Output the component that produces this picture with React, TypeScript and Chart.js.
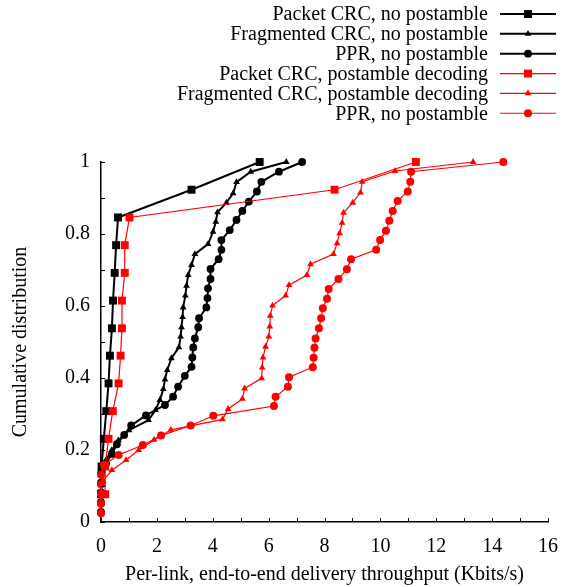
import React, { useEffect, useRef } from 'react';
import { Chart, registerables } from 'chart.js';

Chart.register(...registerables);

// ---------- data ----------
const seriesLabels = [
  'Packet CRC, no postamble',
  'Fragmented CRC, no postamble',
  'PPR, no postamble',
  'Packet CRC, postamble decoding',
  'Fragmented CRC, postamble decoding',
  'PPR, no postamble',
];

const xTicks = [0, 2, 4, 6, 8, 10, 12, 14, 16];
const yTicks = [0, 0.2, 0.4, 0.6, 0.8, 1];

// Packet CRC, no postamble (black squares)
const pktNoPostX = [0.0, 0.02, 0.1, 0.19, 0.27, 0.32, 0.39, 0.43, 0.49, 0.54, 0.61, 3.24, 5.68];
const pktNoPostY = [0.077, 0.154, 0.231, 0.308, 0.385, 0.462, 0.538, 0.615, 0.692, 0.769, 0.846, 0.923, 1.0];

// Fragmented CRC, no postamble (black triangles)
const fragNoPostX = [0.0, 0.0, 0.0, 0.0, 0.06, 0.17, 0.38, 0.62, 1.0, 1.7, 1.95, 2.11, 2.23, 2.29, 2.37, 2.52, 2.79, 2.85, 2.88, 2.92, 2.94, 3.02, 3.06, 3.12, 3.24, 3.36, 3.83, 4.01, 4.11, 4.17, 4.49, 4.73, 4.85, 5.36, 6.63];
const fragNoPostY = [0.031, 0.059, 0.087, 0.115, 0.143, 0.171, 0.199, 0.227, 0.255, 0.283, 0.311, 0.339, 0.369, 0.396, 0.422, 0.455, 0.485, 0.515, 0.541, 0.569, 0.596, 0.629, 0.656, 0.686, 0.714, 0.744, 0.772, 0.806, 0.834, 0.86, 0.887, 0.913, 0.944, 0.973, 1.0];

// PPR, no postamble (black circles)
const pprNoPostX = [0.0, 0.0, 0.0, 0.0, 0.0, 0.18, 0.39, 0.57, 0.83, 1.08, 1.61, 2.29, 2.58, 2.76, 3.0, 3.24, 3.27, 3.3, 3.36, 3.48, 3.51, 3.77, 3.81, 3.83, 3.92, 3.92, 4.21, 4.31, 4.31, 4.61, 4.85, 5.06, 5.29, 5.58, 5.74, 6.37, 7.2];
const pprNoPostY = [0.028, 0.055, 0.082, 0.109, 0.136, 0.163, 0.189, 0.216, 0.242, 0.268, 0.296, 0.325, 0.348, 0.376, 0.406, 0.431, 0.457, 0.485, 0.51, 0.541, 0.566, 0.596, 0.622, 0.649, 0.675, 0.703, 0.73, 0.756, 0.783, 0.811, 0.839, 0.864, 0.89, 0.918, 0.945, 0.973, 1.0];

// Packet CRC, postamble decoding (red squares)
const pktPostX = [0.15, 0.15, 0.27, 0.42, 0.63, 0.7, 0.75, 0.75, 0.85, 0.85, 1.02, 8.36, 11.27];
const pktPostY = [0.077, 0.154, 0.231, 0.308, 0.385, 0.462, 0.538, 0.615, 0.692, 0.769, 0.846, 0.923, 1.0];

// Fragmented CRC, postamble decoding (red triangles)
const fragPostX = [0.0, 0.0, 0.0, 0.08, 0.39, 0.9, 1.35, 1.9, 2.5, 4.35, 4.55, 5.06, 5.14, 5.75, 5.77, 5.8, 5.89, 6.01, 6.04, 6.06, 6.14, 6.61, 6.73, 7.37, 7.5, 8.32, 8.45, 8.54, 8.63, 8.68, 9.01, 9.29, 9.35, 10.52, 13.32];
const fragPostY = [0.029, 0.058, 0.087, 0.115, 0.144, 0.172, 0.2, 0.228, 0.256, 0.285, 0.314, 0.342, 0.371, 0.399, 0.429, 0.457, 0.487, 0.515, 0.543, 0.573, 0.601, 0.629, 0.658, 0.686, 0.716, 0.744, 0.774, 0.802, 0.831, 0.859, 0.887, 0.915, 0.945, 0.975, 1.0];

// PPR, no postamble (red circles)
const pprPostX = [0.0, 0.0, 0.0, 0.0, 0.0, 0.1, 0.63, 1.5, 2.15, 3.21, 4.02, 6.19, 6.25, 6.69, 6.73, 7.58, 7.61, 7.64, 7.68, 7.8, 7.88, 7.94, 8.09, 8.15, 8.5, 8.8, 8.95, 9.85, 9.99, 10.2, 10.32, 10.44, 10.62, 10.98, 11.07, 11.1, 14.4];
const pprPostY = [0.024, 0.051, 0.078, 0.105, 0.131, 0.158, 0.186, 0.214, 0.24, 0.268, 0.295, 0.322, 0.348, 0.376, 0.402, 0.43, 0.456, 0.484, 0.51, 0.538, 0.566, 0.594, 0.62, 0.647, 0.675, 0.702, 0.73, 0.756, 0.783, 0.809, 0.837, 0.864, 0.892, 0.918, 0.945, 0.973, 1.0];

// ---------- styles ----------
const FONT = '"Liberation Serif", "Times New Roman", serif';
const FSIZE = 20;
const BLACK = '#000000';
const RED = '#ff0000';

type Style = { color: string; width: number; marker: 'rect' | 'triangle' | 'circle'; radius: number };
const styles: Style[] = [
  { color: BLACK, width: 2, marker: 'rect', radius: 5.6 },
  { color: BLACK, width: 2, marker: 'triangle', radius: 3.9 },
  { color: BLACK, width: 2, marker: 'circle', radius: 3.9 },
  { color: RED, width: 1.2, marker: 'rect', radius: 5.6 },
  { color: RED, width: 1.2, marker: 'triangle', radius: 3.9 },
  { color: RED, width: 1.2, marker: 'circle', radius: 4.0 },
];

const seriesX = [pktNoPostX, fragNoPostX, pprNoPostX, pktPostX, fragPostX, pprPostX];
const seriesY = [pktNoPostY, fragNoPostY, pprNoPostY, pktPostY, fragPostY, pprPostY];

function drawMarker(ctx: CanvasRenderingContext2D, s: Style, x: number, y: number) {
  ctx.fillStyle = s.color;
  ctx.beginPath();
  if (s.marker === 'rect') {
    const h = s.radius * Math.SQRT1_2;
    ctx.rect(x - h, y - h, 2 * h, 2 * h);
  } else if (s.marker === 'triangle') {
    const r = s.radius;
    ctx.moveTo(x, y - r);
    ctx.lineTo(x + r * Math.cos(Math.PI / 6), y + r / 2);
    ctx.lineTo(x - r * Math.cos(Math.PI / 6), y + r / 2);
    ctx.closePath();
  } else {
    ctx.arc(x, y, s.radius, 0, Math.PI * 2);
  }
  ctx.fill();
}

const decorPlugin = {
  id: 'decor',
  afterDraw(chart: any) {
    const ctx: CanvasRenderingContext2D = chart.ctx;
    const xs = chart.scales.x;
    const ys = chart.scales.y;
    const { left, bottom } = chart.chartArea;
    ctx.save();
    ctx.strokeStyle = BLACK;
    ctx.lineWidth = 1;
    for (let v = 0; v <= 16; v += 1) {
      const px = Math.round(xs.getPixelForValue(v)) + 0.5;
      ctx.beginPath();
      ctx.moveTo(px, bottom);
      ctx.lineTo(px, bottom - 4);
      ctx.stroke();
    }
    for (let k = 0; k <= 10; k++) {
      const py = Math.round(ys.getPixelForValue(k / 10)) + 0.5;
      ctx.beginPath();
      ctx.moveTo(left, py);
      ctx.lineTo(left + 4, py);
      ctx.stroke();
    }
    // legend
    ctx.font = `${FSIZE}px ${FONT}`;
    ctx.textAlign = 'right';
    ctx.textBaseline = 'middle';
    for (let i = 0; i < seriesLabels.length; i++) {
      const s = styles[i];
      const y = 14 + i * 19.85;
      ctx.fillStyle = BLACK;
      ctx.fillText(seriesLabels[i], 488, y + 1);
      ctx.strokeStyle = s.color;
      ctx.lineWidth = s.width;
      ctx.beginPath();
      ctx.moveTo(500, y);
      ctx.lineTo(556, y);
      ctx.stroke();
      drawMarker(ctx, s, 528, y);
    }
    ctx.restore();
  },
};

export default function App() {
  const ref = useRef<HTMLCanvasElement | null>(null);

  useEffect(() => {
    if (!ref.current) return;
    Chart.defaults.font.family = FONT;
    Chart.defaults.color = BLACK;

    const datasets = seriesLabels.map((label, i) => {
      const s = styles[i];
      return {
        label,
        data: seriesX[i].map((x, j) => ({ x, y: seriesY[i][j] })),
        showLine: true,
        borderColor: s.color,
        backgroundColor: s.color,
        borderWidth: s.width,
        pointStyle: s.marker,
        pointRadius: s.radius,
        pointBackgroundColor: s.color,
        pointBorderColor: s.color,
        pointBorderWidth: 0,
        pointHoverRadius: s.radius,
        tension: 0,
        clip: false as any,
        order: s.color === RED ? 0 : 1,
      };
    });

    const chart = new Chart(ref.current, {
      type: 'scatter',
      data: { datasets },
      options: {
        responsive: false,
        animation: false,
        devicePixelRatio: 1,
        layout: { padding: { left: 0, top: 162, right: 16, bottom: 0 } },
        plugins: { legend: { display: false }, tooltip: { enabled: false } },
        events: [],
        scales: {
          x: {
            type: 'linear',
            min: 0,
            max: 16,
            afterFit: (scale: any) => {
              scale.height = 65;
              scale.paddingLeft = 0;
              scale.paddingRight = 0;
            },
            afterBuildTicks: (scale: any) => { scale.ticks = xTicks.map((v) => ({ value: v })); },
            grid: { display: false, drawTicks: false },
            border: { display: true, color: BLACK, width: 1.5 },
            ticks: {
              font: { size: FSIZE, family: FONT },
              color: BLACK,
              padding: 13,
              maxRotation: 0,
              callback: (v: any) => String(v),
            },
            title: {
              display: true,
              text: 'Per-link, end-to-end delivery throughput (Kbits/s)',
              font: { size: FSIZE, family: FONT },
              color: BLACK,
              padding: { top: 0, bottom: 0 },
            },
          },
          y: {
            type: 'linear',
            min: 0,
            max: 1,
            afterFit: (scale: any) => {
              scale.width = 101;
              scale.paddingTop = 0;
              scale.paddingBottom = 0;
            },
            afterBuildTicks: (scale: any) => { scale.ticks = yTicks.map((v) => ({ value: v })); },
            grid: { display: false, drawTicks: false },
            border: { display: true, color: BLACK, width: 1.5 },
            ticks: {
              font: { size: FSIZE, family: FONT },
              color: BLACK,
              padding: 11,
              callback: (v: any) => String(v),
            },
            title: {
              display: true,
              text: 'Cumulative distribution',
              font: { size: FSIZE, family: FONT },
              color: BLACK,
              padding: { top: 9, bottom: 0 },
            },
          },
        },
      },
      plugins: [decorPlugin],
    } as any);

    return () => chart.destroy();
  }, []);

  return (
    <div style={{ position: 'fixed', left: 0, top: 0, width: 564, height: 587, background: '#ffffff' }}>
      <canvas ref={ref} width={564} height={587} style={{ display: 'block', width: 564, height: 587 }} />
    </div>
  );
}
